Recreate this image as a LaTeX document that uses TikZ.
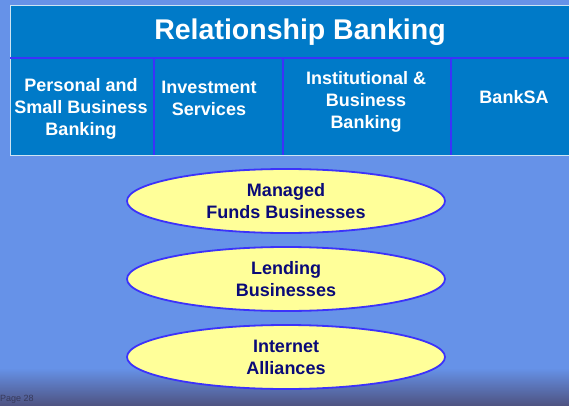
\documentclass[tikz,border=0pt]{standalone}
\usepackage{fontspec}
\setmainfont{Liberation Sans}
\usetikzlibrary{positioning,shapes.geometric}

\definecolor{slidebg}{RGB}{102,146,232}
\definecolor{slidedark}{RGB}{78,82,128}
\definecolor{boxblue}{RGB}{0,122,200}
\definecolor{rulerblue}{RGB}{60,50,250}
\definecolor{lemon}{RGB}{255,255,153}
\definecolor{navytext}{RGB}{10,10,120}

\begin{document}
\begin{tikzpicture}[x=1pt,y=-1pt,node distance=78pt]
	\tikzstyle{cell}=[text=white,font=\fontsize{18}{21.8}\selectfont\bfseries,align=center]
	\tikzstyle{unit}=[ellipse,draw=rulerblue,line width=1.8pt,fill=lemon,text=navytext,
		minimum width=318pt,minimum height=64pt,inner sep=0pt,align=center,
		font=\fontsize{18}{22}\selectfont\bfseries]
	
	% slide background
	\fill[slidebg] (0,0) rectangle (569,406);
	\shade[top color=slidebg,bottom color=slidedark] (0,368) rectangle (569,406);
	\useasboundingbox (0,0) rectangle (569,406);
	
	% divisions table
	\draw[fill=boxblue,draw=white!80!boxblue,line width=0.8pt] (10,5) rectangle (572,155);
	\draw[rulerblue,line width=1.5pt] (10,58) -- (572,58);
	\foreach \xx in {154,283,451}
		\draw[rulerblue,line width=1.5pt] (\xx,58) -- (\xx,155);
	
	\node[text=white,font=\fontsize{28.5}{33}\selectfont\bfseries] (title) at (300,32) {Relationship Banking};
	\node[cell] (personal) at (81,109) {Personal and\\Small Business\\Banking};
	\node[cell] (invest) at (209,98) {Investment\\Services};
	\node[cell] (instit) at (366,102) {Institutional \&\\Business\\Banking};
	\node[cell] (banksa) at (514,97) {BankSA};
	
	% business units
	\node[unit] (funds) at (286,201) {Managed\\Funds Businesses};
	\node[unit] (lending) [below of=funds] {Lending\\Businesses};
	\node[unit] (internet) [below of=lending] {Internet\\Alliances};
	
	\node[anchor=south west,inner sep=2pt,text=slidedark!70!black,font=\fontsize{9}{10}\selectfont] (page) at (-2,406) {Page 28};
\end{tikzpicture}
\end{document}
